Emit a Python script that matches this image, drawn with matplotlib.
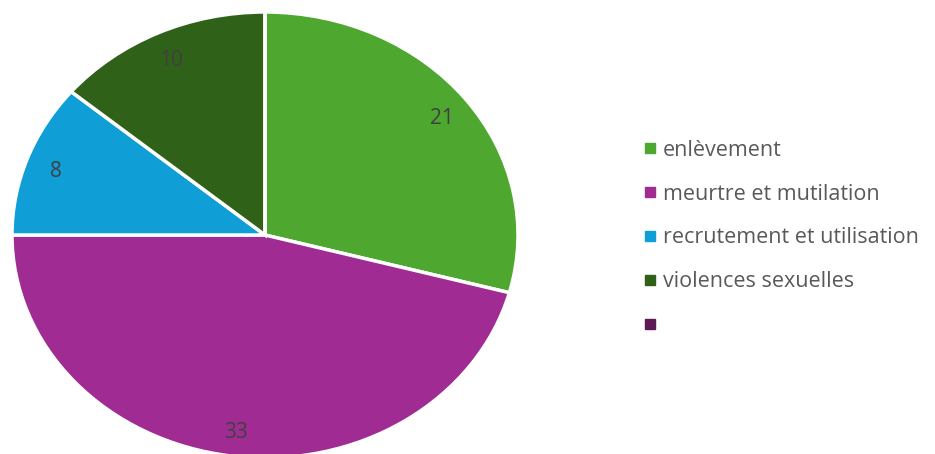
import matplotlib
matplotlib.use("Agg")
import matplotlib.pyplot as plt
from matplotlib.lines import Line2D

categories = ["enlèvement", "meurtre et mutilation", "recrutement et utilisation", "violences sexuelles", ""]
values = [21, 33, 8, 10, 0]
colors = ["#4EA72E", "#A02B93", "#0F9ED5", "#306119", "#5E1A56"]

plt.rcParams['font.family'] = ['Open Sans', 'DejaVu Sans']

fig = plt.figure(figsize=(9.35, 4.54), dpi=100)
ax = fig.add_axes([12/935, 1 - 458/454, 506/935, 446/454])

total = sum(values)

def fmt(p):
    v = round(p * total / 100)
    return f"{v}" if v > 0 else ""

wedges, texts, autotexts = ax.pie(
    values, colors=colors, startangle=90, counterclock=False,
    autopct=fmt, pctdistance=0.88,
    wedgeprops=dict(edgecolor="white", linewidth=2.5),
    textprops=dict(color="#404040", fontsize=15),
    radius=1.0,
)
for t in autotexts:
    x, y = t.get_position()
    t.set_position((x, y - 0.015))
ax.set_aspect("auto")
ax.set_xlim(-1, 1)
ax.set_ylim(-1, 1)
ax.axis("off")

handles = [Line2D([0], [0], marker="s", linestyle="none", markersize=6.5,
                  markerfacecolor=c, markeredgecolor=c) for c in colors]
leg = fig.legend(handles, categories, loc="upper left",
                 bbox_to_anchor=(633/935, 1 - 129/454), frameon=False,
                 fontsize=15.5, labelcolor="#595959", handlelength=0.6,
                 handletextpad=0.3, labelspacing=1.06, borderpad=0)

fig.savefig("out.png", dpi=100)
